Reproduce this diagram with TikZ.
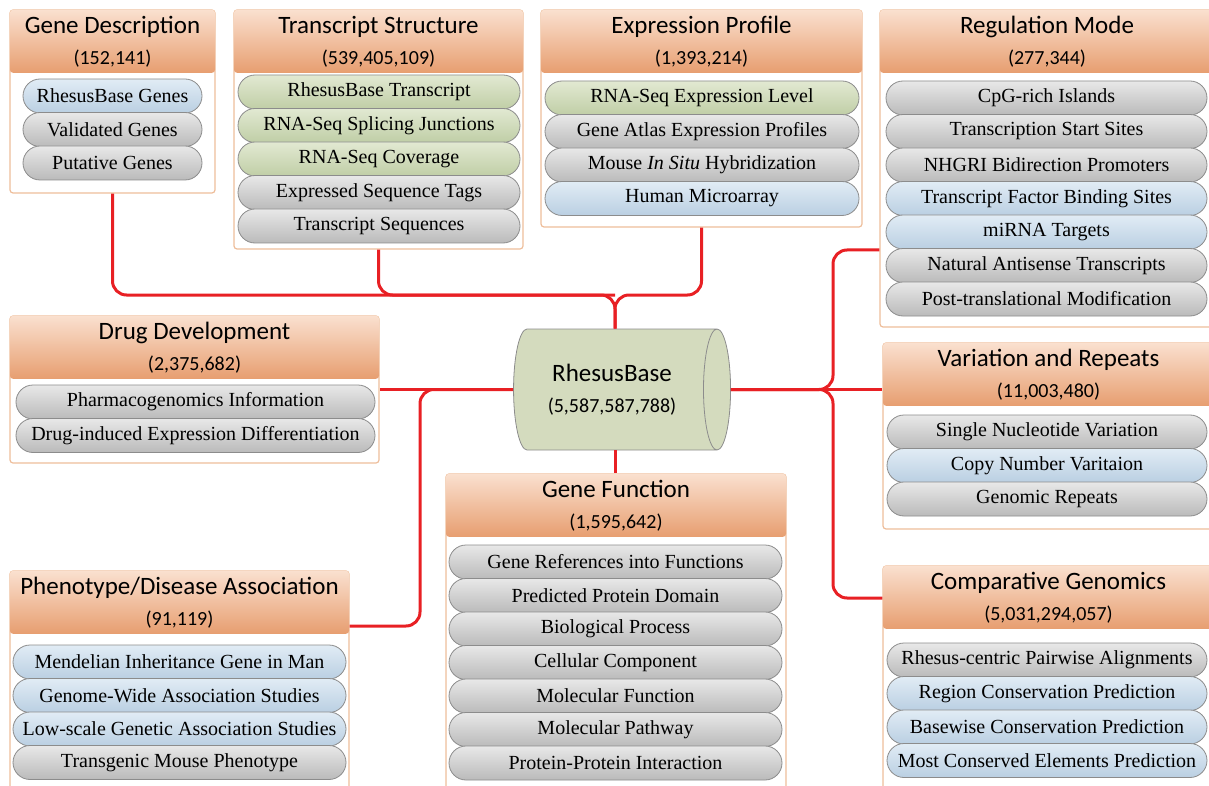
\documentclass[tikz,border=0pt]{standalone}
\usepackage{fontspec}
\setmainfont{Liberation Serif}
\newfontfamily\hdfont{Carlito}
\usetikzlibrary{shapes.geometric,positioning,fit}

\definecolor{hdtop}{RGB}{250,224,207}
\definecolor{hdbot}{RGB}{231,158,112}
\definecolor{frameline}{RGB}{238,190,155}
\definecolor{linkred}{RGB}{232,32,36}
\definecolor{dbgreen}{RGB}{212,219,190}

\begin{document}
\begin{tikzpicture}[x=0.5pt, y=-0.5pt,
  frame/.style={draw=frameline, line width=0.6pt, rounded corners=1.5pt, inner sep=0pt, fill=white},
  head/.style={inner sep=0pt, top color=hdtop, bottom color=hdbot, rounded corners=1.5pt, align=center,
    minimum height=31.5pt, anchor=north, font=\hdfont\fontsize{12.5}{15.5}\selectfont},
  pill/.style={draw=black!45, line width=0.4pt, rounded corners=8.5pt, minimum height=17pt, inner sep=0pt,
    font=\fontsize{10}{12}\selectfont},
  pg/.style={pill, top color=black!9, bottom color=black!27},
  pb/.style={pill, top color={rgb,255:red,225;green,236;blue,245}, bottom color={rgb,255:red,186;green,207;blue,226}},
  pn/.style={pill, top color={rgb,255:red,226;green,233;blue,210}, bottom color={rgb,255:red,192;green,206;blue,166}},
  link/.style={draw=linkred, line width=1.5pt, rounded corners=7pt}]
 \useasboundingbox (0,0) rectangle (1209,786);
 \clip (0,0) rectangle (1209,786);
 \newcommand\cnt[1]{\\[0pt]{\fontsize{10}{12}\selectfont(#1)}}

 % central database
 \node[cylinder, draw=black!45, line width=0.4pt, cylinder uses custom fill, cylinder body fill=dbgreen,
   cylinder end fill=dbgreen, shape aspect=0.42, minimum width=60.5pt, minimum height=108.5pt,
   align=center, font=\hdfont\fontsize{12.5}{15.5}\selectfont] (rb) at (612,389.5) {RhesusBase\cnt{5,587,587,788}};

 % panels: frame, header, items
 \node[frame, fit={(10,10) (215,193)}] (gd) {};
 \node[head, minimum width=102.5pt] (gdh) at (gd.north) {Gene Description\cnt{152,141}};
 \foreach \t/\s [count=\i] in {RhesusBase Genes/pb, Validated Genes/pg, Putative Genes/pg}
   \node[\s, minimum width=89.5pt] (gd\i) at (112.5,62.5+\i*33.5) {\t};

 \node[frame, fit={(234,10) (523,249)}] (ts) {};
 \node[head, minimum width=144.5pt] (tsh) at (ts.north) {Transcript Structure\cnt{539,405,109}};
 \foreach \t/\s [count=\i] in {RhesusBase Transcript/pn, RNA-Seq Splicing Junctions/pn, RNA-Seq Coverage/pn,
     Expressed Sequence Tags/pg, Transcript Sequences/pg}
   \node[\s, minimum width=141pt] (ts\i) at (379,58.5+\i*33.5) {\t};

 \node[frame, fit={(541,10) (862,227)}] (ep) {};
 \node[head, minimum width=160.5pt] (eph) at (ep.north) {Expression Profile\cnt{1,393,214}};
 \foreach \t/\s [count=\i] in {RNA-Seq Expression Level/pn, Gene Atlas Expression Profiles/pg,
     Mouse \emph{In Situ} Hybridization/pg, Human Microarray/pb}
   \node[\s, minimum width=157pt] (ep\i) at (702,64.5+\i*33.5) {\t};

 \node[frame, fit={(880,10) (1214,327)}] (rm) {};
 \node[head, minimum width=167pt] (rmh) at (rm.north) {Regulation Mode\cnt{277,344}};
 \foreach \t/\s [count=\i] in {CpG-rich Islands/pg, Transcription Start Sites/pg, NHGRI Bidirection Promoters/pg,
     Transcript Factor Binding Sites/pb, miRNA Targets/pb, Natural Antisense Transcripts/pg,
     Post-translational Modification/pg}
   \node[\s, minimum width=160.5pt] (rm\i) at (1046.5,64.5+\i*33.5) {\t};

 \node[frame, fit={(10,316) (379,463)}] (dd) {};
 \node[head, minimum width=184.5pt] (ddh) at (dd.north) {Drug Development\cnt{2,375,682}};
 \foreach \t/\s [count=\i] in {Pharmacogenomics Information/pg, Drug-induced Expression Differentiation/pg}
   \node[\s, minimum width=179.5pt] (dd\i) at (195.5,368.5+\i*33.5) {\t};

 \node[frame, fit={(883,343) (1214,529)}] (vr) {};
 \node[head, minimum width=165.5pt] (vrh) at (vr.north) {Variation and Repeats\cnt{11,003,480}};
 \foreach \t/\s [count=\i] in {Single Nucleotide Variation/pg, Copy Number Varitaion/pb, Genomic Repeats/pg}
   \node[\s, minimum width=160pt] (vr\i) at (1047,398.5+\i*33.5) {\t};

 \node[frame, fit={(446,474) (786,792)}] (gf) {};
 \node[head, minimum width=170pt] (gfh) at (gf.north) {Gene Function\cnt{1,595,642}};
 \foreach \t [count=\i] in {Gene References into Functions, Predicted Protein Domain, Biological Process,
     Cellular Component, Molecular Function, Molecular Pathway, Protein-Protein Interaction}
   \node[pg, minimum width=166.5pt] (gf\i) at (615.5,528.5+\i*33.5) {\t};

 \node[frame, fit={(10,571) (349,792)}] (ph) {};
 \node[head, minimum width=169.5pt] (phh) at (ph.north) {Phenotype/Disease Association\cnt{91,119}};
 \foreach \t/\s [count=\i] in {Mendelian Inheritance Gene in Man/pb, Genome-Wide Association Studies/pb,
     Low-scale Genetic Association Studies/pb, Transgenic Mouse Phenotype/pg}
   \node[\s, minimum width=166.5pt] (ph\i) at (179.5,628.5+\i*33.5) {\t};

 \node[frame, fit={(883,566) (1214,792)}] (cg) {};
 \node[head, minimum width=165.5pt] (cgh) at (cg.north) {Comparative Genomics\cnt{5,031,294,057}};
 \foreach \t/\s [count=\i] in {Rhesus-centric Pairwise Alignments/pg, Region Conservation Prediction/pb,
     Basewise Conservation Prediction/pb, Most Conserved Elements Prediction/pb}
   \node[\s, minimum width=160pt] (cg\i) at (1047,626.5+\i*33.5) {\t};

 % connectors
 \coordinate (trunk) at (615,295);
 \draw[link] (gd.south) |- (trunk) -- (trunk |- rb.north);
 \draw[link] (ep.south) |- (trunk) -- (trunk |- rb.north);
 \draw[link] (ts.south) |- (trunk);
 \draw[link] (trunk |- rb.south) -- (trunk |- gfh.north);
 \draw[link] (rb.west) -- (rb.west -| dd.east);
 \draw[link] (rb.west) -- (420,389.5) |- (ph.east |- 0,626);
 \draw[link] (rb.east) -- (rb.east -| vr.west);
 \draw[link] (rb.east) -- (833,389.5) |- (rm.west |- 0,250);
 \draw[link] (rb.east) -- (833,389.5) |- (cg.west |- 0,598);
\end{tikzpicture}
\end{document}
